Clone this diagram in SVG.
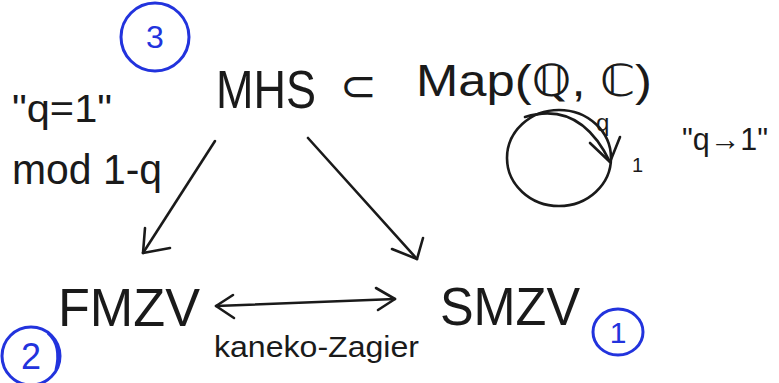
<svg xmlns="http://www.w3.org/2000/svg" width="779" height="383" viewBox="0 0 779 383">
<style>
text{font-family:"Liberation Sans","DejaVu Sans",sans-serif;fill:#1a1a1a}
.ln{fill:none;stroke:#1a1a1a;stroke-width:2.6;stroke-linecap:round;stroke-linejoin:round}
.bc{fill:none;stroke:#2233dd;stroke-width:3}
.bt{fill:#2233dd;font-family:"Liberation Sans",sans-serif}
</style>
<rect width="779" height="383" fill="#fff"/>
<g id="node-mhs">
<text x="216" y="108" font-size="54" textLength="100" lengthAdjust="spacingAndGlyphs">MHS</text>
<text x="340" y="101" font-size="44">⊂</text>
<text x="416" y="96" font-size="44" textLength="236" lengthAdjust="spacingAndGlyphs">Map(ℚ, ℂ)</text>
</g>
<g id="node-fmzv">
<text x="58" y="326" font-size="54" textLength="142" lengthAdjust="spacingAndGlyphs">FMZV</text>
</g>
<g id="node-smzv">
<text x="440" y="325" font-size="54" textLength="140" lengthAdjust="spacingAndGlyphs">SMZV</text>
</g>
<g id="label-q1">
<text x="12" y="122" font-size="38" textLength="100" lengthAdjust="spacingAndGlyphs">"q=1"</text>
<text x="12" y="184" font-size="42" textLength="150" lengthAdjust="spacingAndGlyphs">mod 1-q</text>
</g>
<g id="label-kz">
<text x="214" y="357" font-size="30" textLength="205" lengthAdjust="spacingAndGlyphs">kaneko-Zagier</text>
</g>
<g id="unit-circle">
<ellipse class="ln" cx="559" cy="158" rx="52" ry="48"/>
<path class="ln" d="M525 117 Q580 100 610 162"/>
<path class="ln" d="M590 143 L610 162 L620 137"/>
<text x="596" y="131" font-size="24">q</text>
<text x="632" y="172" font-size="20">1</text>
<text x="682" y="150" font-size="32" textLength="86" lengthAdjust="spacingAndGlyphs">"q→1"</text>
</g>
<g id="badge-3">
<circle class="bc" cx="155" cy="37" r="34"/>
<text class="bt" x="155" y="48" font-size="32" text-anchor="middle">3</text>
</g>
<g id="badge-2">
<circle class="bc" cx="31" cy="356" r="29"/>
<path class="bc" d="M48 333 Q62 345 56 370" stroke-width="2"/>
<text class="bt" x="31" y="369" font-size="36" text-anchor="middle">2</text>
</g>
<g id="badge-1">
<ellipse class="bc" cx="618" cy="332" rx="25" ry="23"/>
<text class="bt" x="618" y="343" font-size="30" text-anchor="middle">1</text>
</g>
<g id="connectors">
<path class="ln" d="M215 141 L143 253"/>
<path class="ln" d="M145 228 L143 253 L170 248"/>
<path class="ln" d="M308 138 L417 259"/>
<path class="ln" d="M392 249 L417 259 L423 238"/>
<path class="ln" d="M216 306 L395 299"/>
<path class="ln" d="M233 295 L216 306 L234 318"/>
<path class="ln" d="M376 288 L395 299 L378 310"/>
</g>
</svg>
